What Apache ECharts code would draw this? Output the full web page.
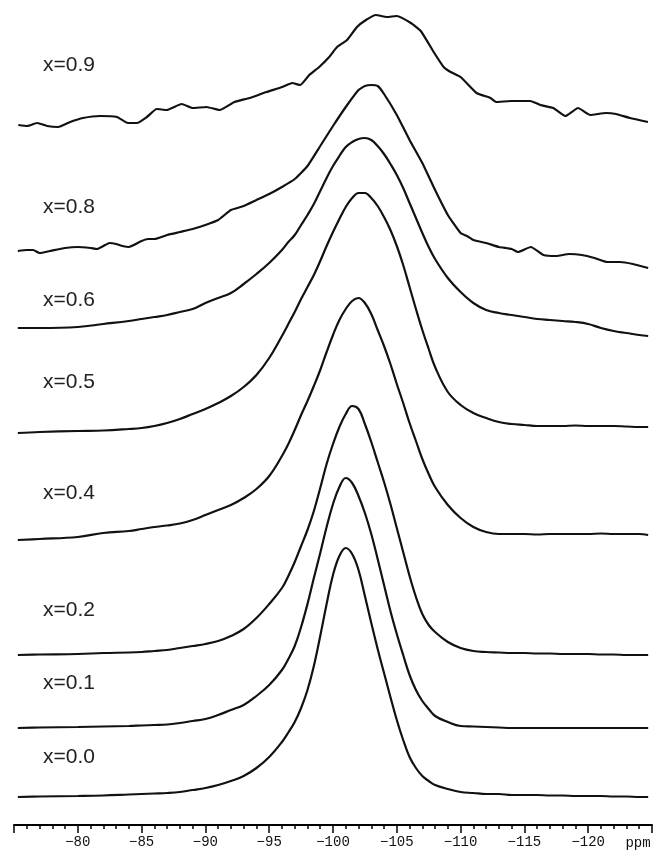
<!DOCTYPE html>
<html>
<head>
<meta charset="utf-8">
<script src="https://cdn.jsdelivr.net/npm/echarts@6/dist/echarts.min.js"></script>
<style>
html,body{margin:0;padding:0;background:#fff;}
#chart{width:655px;height:851px;}
</style>
</head>
<body>
<div id="chart"></div>
<script>
// ---- data (ppm chemical shift, intensity above each trace's baseline) ----
const traceNames = ['x=0.0', 'x=0.1', 'x=0.2', 'x=0.4', 'x=0.5', 'x=0.6', 'x=0.8', 'x=0.9'];
const baselineOffsets = [28, 97, 170, 285, 392, 497, 574, 700];

const ppmGrid = [-75.3, -77, -80, -82, -84, -85, -86, -87, -88, -89, -90, -91, -92, -93, -94, -95,
  -96, -96.5, -97, -97.5, -98, -98.5, -99, -99.5, -100, -100.5, -101, -101.5, -102, -102.5, -103, -103.5,
  -104, -104.5, -105, -105.5, -106, -106.5, -107, -107.5, -108,
  -109, -110, -111, -112, -113, -114, -115, -116, -117, -118, -119, -120, -121, -122, -123, -124, -124.7];

const int00 = [0, 0.5, 1, 1.5, 2.5, 3, 3.5, 4, 5, 7, 9, 12, 16, 21, 29, 40,
  55, 64.5, 75, 89, 107, 131, 161, 193, 222, 241, 249, 243, 227, 201, 174, 148,
  124, 100, 77, 57, 40, 29, 21, 16, 12,
  8, 5, 4, 3, 3, 2, 2, 2, 1.5, 1.5, 1, 1, 1, 0.5, 0.5, 0, 0];
const int01 = [0, 0.5, 1, 1.5, 2, 2.5, 3, 3.5, 5, 7, 9, 13, 18, 23, 32, 43,
  58, 69, 82, 101, 124, 150, 175, 201, 224, 241, 250, 245, 232, 215, 194, 169,
  143, 117, 94, 73, 53, 38, 27, 19, 12,
  6, 2, 1.5, 1, 0.5, 0, 0, 0, 0, 0, 0, 0, 0, 0, 0, 0, 0];
const int02 = [0, 0.5, 1, 2, 2.5, 3, 4, 5, 7, 9, 11, 14, 19, 26, 37, 51,
  67, 79, 93, 109, 125, 144, 167, 191, 211, 228, 241, 249, 246, 231, 213, 193,
  173, 151, 127, 103, 79, 58, 41, 30, 23,
  13, 7, 4, 3, 2.5, 2, 2, 1.5, 1.5, 1, 1, 1, 0.5, 0.5, 0, 0, 0];
const int04 = [0, 1, 3, 7, 9, 11, 13, 14.5, 16.5, 20, 25, 30, 35, 42, 51, 64,
  84, 96, 110, 125, 139, 154, 170, 188, 205, 220, 231, 239, 242, 237, 226, 210,
  194, 176, 156, 137, 117, 99, 81, 66, 53,
  35, 22, 13, 8, 6, 6, 6, 5.5, 6, 6, 6, 6, 6.5, 6, 6, 6, 5];
const int05 = [0, 1, 2, 2.5, 4, 5, 7, 10, 14, 19, 24, 30, 37, 46, 58, 75,
  97, 109, 121, 134, 146, 158, 172, 187, 201, 214, 226, 235, 240, 240, 235, 227,
  216, 203, 187, 168, 146, 124, 103, 84, 66,
  41, 28, 20, 15, 11, 9, 8, 7, 7, 7, 7.5, 7, 7, 7, 6.5, 6, 6];
const int06 = [0, 0, 1, 4, 7, 9, 11, 13, 16, 19, 25, 30, 35, 44, 54, 65,
  78, 86, 93, 103, 113, 124, 137, 150, 162, 172, 181, 186, 189, 190, 188, 182,
  174, 164, 153, 140, 125, 110, 95, 81, 69,
  50, 36, 25, 18, 15, 13, 11, 9, 8, 7, 6, 4, 0, -3, -5, -7, -8];

const ppm08 = [-75.3, -76, -76.5, -77, -77.8, -79, -80, -81, -81.5, -82, -82.5, -83, -83.5, -84, -85, -85.5, -86, -87, -88,
  -89, -90, -91, -92, -93, -94, -95, -96, -97, -98, -99, -100, -101, -102, -102.5, -103, -103.5, -104, -105, -106,
  -107, -108, -109, -110, -110.5, -111, -112, -113, -114, -114.5, -115.5, -116.5, -117.5, -118.5, -119.5, -120.5,
  -121.5, -122.5, -123.5, -124.7];
const int08 = [0, 1, 1, -2, 0, 3, 4, 3, 2, 5, 8, 7, 5, 4, 10, 12, 12, 16, 19,
  22, 26, 31, 41, 45, 51, 57, 64, 72, 85, 105, 125, 144, 161, 165, 166, 165, 157, 136, 111,
  88, 61, 36, 18, 15, 11, 8, 4, 2, -1, 4, -4, -5, -3, -4, -7,
  -11, -11, -13, -17];

const ppm09 = [-75.34, -76.04, -76.82, -77.60, -78.46, -79.40, -80.41, -81.74, -83.07, -83.93, -84.63, -85.41, -86.19,
  -86.97, -88.14, -89.00, -90.09, -91.11, -92.28, -93.45, -94.78, -96.03, -96.81, -97.43, -98.14, -98.92, -99.70,
  -100.32, -101.10, -101.88, -102.58, -103.36, -104.22, -105.00, -106.10, -106.88, -107.89, -108.67, -109.22, -110.00,
  -111.25, -112.34, -112.81, -113.91, -115.47, -116.25, -117.26, -118.20, -119.21, -120.15, -121.40, -122.18,
  -123.27, -124.68];
const int09 = [0, -1, 2, -1, -2, 3, 7, 9, 8, 2, 2, 8, 16,
  15, 21, 17, 18, 15, 23, 27, 33, 38, 42, 40, 50, 58, 68,
  78, 85, 98, 105, 110, 108, 109, 102, 94, 73, 58, 53, 48,
  32, 27, 23, 24, 24, 20, 17, 9, 17, 10, 12, 11,
  7, 3];

const tickLabels = ['-80', '-85', '-90', '-95', '-100', '-105', '-110', '-115', '-120'];
const axisUnit = 'ppm';

// label placement (layout only)
const labelY = [757, 683, 610, 493, 382, 300, 207, 65];

// ---- build series ----
const xs = [ppmGrid, ppmGrid, ppmGrid, ppmGrid, ppmGrid, ppmGrid, ppm08, ppm09];
const ys = [int00, int01, int02, int04, int05, int06, int08, int09];
const series = ys.map((vals, i) => ({
  name: traceNames[i],
  type: 'line',
  showSymbol: false,
  smooth: i < 6 ? 0.4 : 0.15,
  lineStyle: { color: '#111', width: 2.2 },
  data: vals.map((v, k) => [xs[i][k], v + baselineOffsets[i]]),
  animation: false,
  silent: true
}));

const chart = echarts.init(document.getElementById('chart'), null, { renderer: 'canvas' });
chart.setOption({
  backgroundColor: '#fff',
  animation: false,
  grid: { left: 14, right: 1, top: 0, bottom: 26 },
  xAxis: {
    type: 'value',
    inverse: true,
    min: -125,
    max: -75,
    interval: 5,
    axisLine: { show: true, lineStyle: { color: '#000', width: 2 } },
    axisTick: { show: true, length: 8, lineStyle: { color: '#000', width: 1.5 } },
    minorTick: { show: true, splitNumber: 5, length: 4, lineStyle: { color: '#000', width: 1.5 } },
    splitLine: { show: false },
    axisLabel: {
      margin: 10,
      color: '#111',
      fontFamily: '"Liberation Mono", monospace',
      fontSize: 14,
      formatter: function (v) {
        const s = String(v);
        return tickLabels.indexOf(s) >= 0 ? s.replace('-', '\u2212') : '';
      }
    }
  },
  yAxis: { type: 'value', min: 0, max: 825, show: false },
  series: series,
  graphic: traceNames.map((t, i) => ({
    type: 'text',
    x: 43,
    y: labelY[i],
    style: { text: t, fill: '#222', font: '21px "Liberation Sans", Arial, sans-serif', textVerticalAlign: 'middle', verticalAlign: 'middle' }
  })).concat([{
    type: 'text',
    x: 638,
    y: 843,
    style: { text: axisUnit, fill: '#111', font: '14px "Liberation Mono", monospace', textAlign: 'center', align: 'center', textVerticalAlign: 'middle', verticalAlign: 'middle' }
  }])
});
</script>
</body>
</html>
